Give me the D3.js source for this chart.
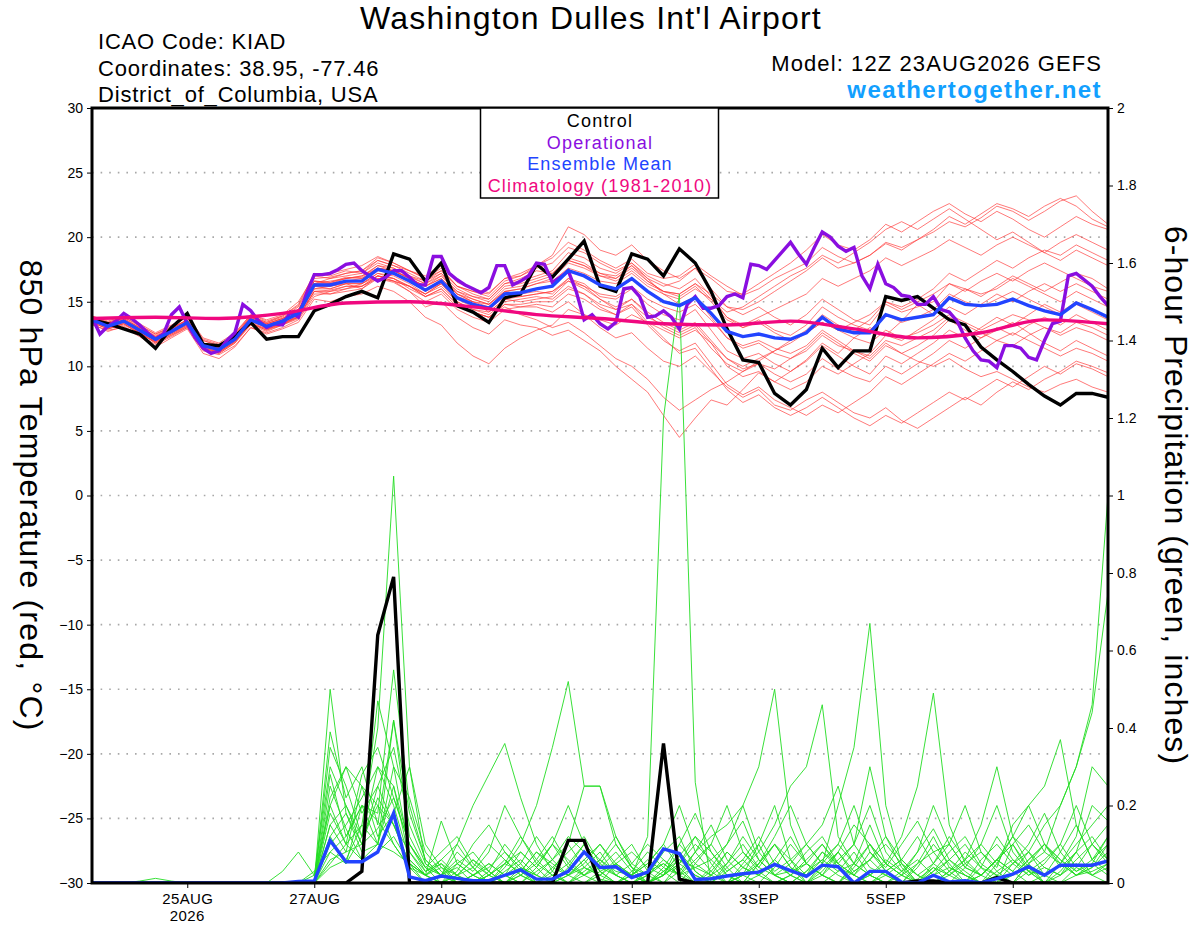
<!DOCTYPE html>
<html>
<head>
<meta charset="utf-8">
<title>KIAD GEFS meteogram</title>
<script src="https://d3js.org/d3.v7.min.js"></script>
<style>
  body { margin: 0; background: #fff; }
  svg text { font-family: "Liberation Sans", Arial, Helvetica, sans-serif; }
</style>
</head>
<body>
<div class="canvas"></div>
<script>
// Run info - 6 hourly ensemble steps from 12Z 23AUG2026
const runStart = '2026-08-23T12:00:00Z';
const stepHours = 6;      // ensemble / control / mean
const opStepHours = 3;    // operational run
const climStepHours = 24; // climatology

// Axis ticks
const dateTicks = ['2026-08-25T00:00:00Z', '2026-08-27T00:00:00Z', '2026-08-29T00:00:00Z',
  '2026-09-01T00:00:00Z', '2026-09-03T00:00:00Z', '2026-09-05T00:00:00Z', '2026-09-07T00:00:00Z'];
const dateLabels = ['25AUG', '27AUG', '29AUG', '1SEP', '3SEP', '5SEP', '7SEP'];
const tempTicks = [-30, -25, -20, -15, -10, -5, 0, 5, 10, 15, 20, 25, 30];
const precipTicks = [0, 0.2, 0.4, 0.6, 0.8, 1, 1.2, 1.4, 1.6, 1.8, 2];

// 850 hPa temperature (C)
const controlTemp = [13.6,13.3,12.9,12.5,11.4, 13.0,14.1,11.7,11.6,12.3, 13.4,12.1,12.3,12.3,14.3,
  14.8,15.4,15.8,15.3,18.7, 18.3,16.6,18.0,14.7,14.2, 13.4,15.3,15.6,17.9,16.9,
  18.3,19.7,16.2,15.8,18.7, 18.3,17.0,19.1,18.0,15.8, 12.9,10.5,10.3,7.9,7.0,
  8.2,11.4,9.9,11.2,11.2, 15.4,15.1,15.4,14.5,13.6, 13.2,11.5,10.5,9.6,8.6, 7.7,7.0,7.9,7.9,7.6];

const meanTemp = [13.6,13.1,13.5,12.8,12.1, 12.7,13.4,11.6,11.3,12.1, 13.6,13.1,13.5,14.1,16.3,
  16.3,16.6,16.6,17.5,17.2, 16.6,15.9,16.6,15.3,14.8, 14.5,15.6,15.7,16.0,16.2,
  17.4,17.0,16.3,16.0,16.8, 15.8,15.0,14.7,15.3,14.1, 12.7,12.3,12.5,12.2,12.1,
  12.6,13.8,12.9,12.6,12.6, 14.0,13.6,13.8,14.0,15.3, 14.8,14.7,14.8,15.2,14.7, 14.3,14.0,14.9,14.4,13.8];

const operationalTemp = [13.8,12.5,13.1,13.5,14.1,13.7,13.2,12.6,12.1,12.5,
  14.0,14.6,13.3,12.2,11.4,11.0,11.2,12.0,12.6,14.8,
  14.3,13.5,13.0,13.3,13.2,14.2,13.8,15.6,17.1,17.1,
  17.2,17.5,17.9,18.0,17.4,17.0,16.6,16.9,17.4,17.4,
  16.9,16.3,16.3,18.5,18.5,17.2,16.7,16.3,16.0,15.7,
  16.1,17.8,17.8,16.3,16.6,17.0,18.0,17.9,16.5,16.9,
  17.4,15.8,13.6,14.0,13.3,12.9,13.4,16.0,16.1,15.4,
  13.8,13.9,14.3,13.8,12.9,14.8,15.4,14.5,14.5,14.7,
  15.4,15.6,15.3,17.9,17.8,17.5,18.2,18.9,19.6,18.7,
  17.9,19.2,20.4,20.0,19.3,18.9,19.2,17.0,16.0,17.9,
  16.4,16.1,15.5,15.4,14.8,14.8,15.4,14.4,14.2,13.5,
  12.2,11.2,10.5,10.4,9.9,11.6,11.6,11.4,10.7,10.5,
  12.0,13.3,13.5,17.0,17.2,16.7,16.2,15.4,14.7];

const climoTemp = [13.7,13.8,13.7,14.1,14.9,15.0,14.6,14.0,13.7,13.3,13.2,13.5,12.9,12.2,12.6,13.6,13.3];

const memberTemps = [
  [13.9,13.4,13.8,13.2,12.5, 13.0,13.9,12.2,11.8,12.6, 14.0,13.6,14.0,15.0,17.0, 17.2,17.5,17.8,18.5,18.0, 17.4,17.0,17.8,16.5,16.0, 15.7,16.8,17.2,17.8,18.4, 19.6,19.0,18.2,17.6,18.3, 17.2,16.8,17.0,17.9,17.0, 16.2,15.5,16.0,16.8,17.4, 18.0,19.2,18.5,18.0,18.6, 19.5,19.0,19.8,20.4,21.2, 20.8,21.5,22.4,22.0,21.3, 22.0,22.8,23.2,22.0,21.0],
  [13.2,12.8,13.0,12.3,11.5, 12.2,12.9,11.0,10.6,11.5, 13.0,12.6,13.0,13.6,15.4, 15.8,16.0,16.2,16.8,16.5, 15.8,14.6,15.0,13.8,13.0, 12.5,13.6,13.2,13.0,12.4, 12.8,12.0,11.2,10.0,9.0, 8.0,6.2,4.5,6.0,7.4, 7.0,8.2,9.5,8.8,9.6, 10.5,11.8,11.0,12.2,13.0, 12.4,13.5,14.8,14.0,15.2, 16.0,15.4,16.2,17.0,16.4, 15.8,16.5,17.2,16.8,16.0],
  [13.5,13.0,13.6,12.6,11.8, 12.4,13.0,11.4,11.0,11.8, 13.4,12.9,13.2,14.0,16.0, 16.0,16.4,16.0,17.0,16.8, 16.0,15.4,16.0,14.8,14.2, 13.8,14.8,14.6,14.6,14.2, 15.0,14.0,13.0,12.2,12.6, 11.4,10.4,10.0,10.8,9.6, 8.4,7.6,8.2,7.0,6.6, 7.4,8.0,7.2,6.4,6.0, 6.8,5.8,5.2,6.0,6.8, 7.6,7.0,8.0,8.8,8.2, 9.0,9.6,10.4,10.0,9.5],
  [13.8,13.3,13.7,13.0,12.4, 13.0,13.6,12.0,11.6,12.4, 13.9,13.4,13.8,14.6,16.8, 16.9,17.2,17.4,18.4,18.0, 17.4,16.8,17.6,16.2,15.8, 15.4,16.6,17.0,17.8,18.6, 20.8,20.2,19.0,18.6,19.4, 18.2,17.4,16.8,17.6,16.0, 14.6,14.0,14.6,13.8,13.2, 14.0,15.2,14.4,13.6,13.2, 14.8,14.2,14.6,15.0,16.4, 16.0,15.6,16.0,16.8,16.2, 15.6,15.0,15.8,15.2,14.6],
  [13.4,12.9,13.3,12.5,11.9, 12.6,13.2,11.5,11.1,11.9, 13.3,12.8,13.4,13.8,15.8, 15.6,16.0,16.4,17.0,16.6, 16.2,15.6,16.4,15.4,15.0, 14.2,15.2,15.4,15.6,15.8, 16.6,16.0,15.2,14.6,15.2, 14.0,13.0,12.4,13.0,11.4, 10.2,9.6,10.2,9.8,10.6, 11.4,12.6,11.8,11.0,10.4, 11.6,11.0,11.6,12.4,13.6, 12.8,12.2,12.8,13.4,12.6, 11.8,11.2,12.0,11.4,10.8],
  [13.7,13.2,13.5,12.9,12.2, 12.8,13.5,11.7,11.4,12.2, 13.7,13.2,13.6,14.4,16.4, 16.6,16.8,17.0,17.8,17.6, 17.0,16.4,17.0,15.8,15.2, 14.8,16.0,16.2,16.6,17.0, 18.2,17.8,17.0,16.8,17.8, 16.8,16.2,16.6,17.6,16.8, 15.8,15.6,16.4,17.2,18.0, 19.0,20.2,19.4,19.0,19.8, 21.0,20.4,21.2,22.0,22.6, 21.8,21.2,22.0,21.4,20.6, 20.0,20.8,21.6,21.0,20.6],
  [13.6,13.0,13.4,12.7,12.0, 12.6,13.3,11.5,11.2,12.0, 13.5,13.0,13.3,13.9,16.0, 16.2,16.4,16.4,17.2,17.0, 16.4,15.6,16.2,15.0,14.4, 14.0,15.0,15.2,15.4,15.2, 16.2,15.6,14.6,14.0,14.6, 13.2,12.0,11.2,11.8,10.2, 8.6,7.8,8.4,7.4,6.8, 6.2,7.0,6.4,7.2,8.0, 9.2,8.6,9.4,10.2,11.0, 10.4,11.2,12.0,11.6,12.4, 13.0,12.6,13.4,13.0,12.4],
  [13.9,13.5,13.9,13.3,12.6, 13.2,13.8,12.1,11.7,12.5, 14.0,13.5,13.9,14.8,17.2, 17.0,17.4,17.2,18.2,17.8, 17.2,16.6,17.2,16.0,15.4, 15.2,16.4,16.6,17.0,17.4, 18.8,18.4,17.6,17.2,18.0, 17.0,16.4,16.0,16.8,15.4, 13.8,13.0,13.4,12.6,12.0, 12.8,14.0,13.2,12.8,13.6, 15.0,14.6,15.2,16.0,17.2, 16.6,17.4,18.2,17.6,18.4, 19.0,18.6,19.4,18.8,18.2],
  [13.3,12.7,13.1,12.4,11.7, 12.3,13.0,11.2,10.9,11.6, 13.0,12.5,12.9,13.4,15.2, 15.0,15.4,15.6,16.2,15.8, 15.0,13.8,13.2,11.8,10.8, 10.2,11.4,12.2,12.8,13.2, 14.4,14.0,13.6,13.2,14.0, 13.4,12.8,12.2,12.8,11.8, 10.6,10.0,10.6,11.2,11.8, 12.6,13.4,12.8,12.2,11.8, 12.8,12.2,12.6,13.2,14.0, 13.4,12.8,13.4,14.0,13.6, 13.0,12.4,13.0,12.6,12.0],
  [13.6,13.2,13.5,12.9,12.3, 12.9,13.6,11.8,11.5,12.3, 13.8,13.3,13.7,14.3,16.6, 16.5,16.9,16.8,17.6,17.4, 16.9,16.4,17.2,15.6,15.0, 14.6,15.8,15.6,15.8,15.6, 16.8,16.4,15.4,15.2,16.0, 14.8,14.0,13.6,14.4,12.8, 11.2,10.6,11.0,10.2,9.6, 10.4,11.6,10.8,10.0,9.4, 10.8,10.2,11.0,11.8,12.8, 12.2,13.0,13.8,13.2,14.0, 14.8,14.2,15.0,14.4,13.8],
  [13.5,13.1,13.6,12.8,12.2, 12.8,13.5,11.7,11.4,12.2, 13.7,13.2,13.6,14.2,16.4, 16.8,17.0,17.2,18.0,17.6, 17.0,16.6,17.4,16.2,15.6, 15.2,16.4,16.8,17.4,17.2, 18.4,18.0,17.2,16.8,17.6, 16.6,15.8,15.4,16.2,15.0, 13.6,13.0,13.6,12.8,12.4, 13.2,14.6,13.8,13.2,12.8, 14.0,13.4,13.8,14.4,15.6, 15.0,14.6,15.2,15.8,15.2, 14.6,14.0,14.8,14.2,13.6],
  [13.7,13.1,13.4,12.7,12.0, 12.6,13.3,11.6,11.2,12.0, 13.5,13.0,13.4,14.0,16.2, 16.0,16.4,16.4,17.2,16.8, 16.2,15.6,16.4,15.0,14.4, 14.2,15.2,15.0,15.2,15.4, 16.6,16.2,15.6,15.4,16.2, 15.2,14.6,14.2,14.8,13.6, 12.2,11.6,12.0,11.4,11.0, 11.6,12.8,12.0,11.2,10.6, 11.8,11.0,10.4,10.0,10.6, 9.8,9.2,9.6,9.0,8.4, 8.0,8.6,9.0,8.4,8.0],
  [13.8,13.3,13.6,13.0,12.3, 12.9,13.6,11.8,11.5,12.3, 13.8,13.3,13.7,14.4,16.6, 16.4,16.8,17.0,17.6,17.4, 16.8,16.2,16.8,15.6,15.2, 14.8,15.8,16.0,16.4,16.6, 17.6,17.2,16.6,16.4,17.2, 16.2,15.6,15.2,16.0,15.2, 14.2,14.6,15.4,16.2,17.0, 17.6,18.6,18.0,18.8,19.6, 20.6,21.2,20.6,21.4,22.2, 21.4,20.6,19.8,20.4,19.6, 18.8,18.2,19.0,18.4,17.8],
  [13.4,12.9,13.2,12.6,11.9, 12.5,13.2,11.4,11.1,11.9, 13.3,12.8,13.2,13.8,15.8, 15.9,16.2,16.2,17.0,16.8, 16.2,15.4,16.0,14.8,14.2, 13.8,14.8,14.8,15.0,15.0, 16.0,15.6,14.8,14.4,15.2, 14.2,13.4,12.8,13.4,12.0, 10.6,9.8,10.2,9.4,8.8, 9.4,10.6,9.8,9.2,8.8, 10.0,9.4,10.2,11.0,12.0, 11.4,12.2,13.0,12.4,13.2, 13.8,13.2,14.0,13.4,12.8],
  [13.6,13.1,13.5,12.8,12.1, 12.7,13.4,11.6,11.3,12.1, 13.6,13.1,13.5,14.1,16.2, 16.2,16.5,16.6,17.4,17.2, 16.6,15.8,16.4,15.2,14.6, 14.4,15.4,15.4,15.6,15.8, 16.8,16.2,15.2,14.4,14.8, 13.4,12.2,11.0,11.4,9.8, 8.2,7.2,7.8,6.8,6.2, 6.8,7.6,6.8,6.0,5.4, 6.2,5.6,6.4,7.2,8.0, 7.4,8.2,9.0,8.4,9.2, 10.0,9.4,10.2,9.8,9.2],
  [13.7,13.3,13.7,13.0,12.3, 12.9,13.6,11.8,11.5,12.3, 13.8,13.3,13.7,14.4,16.6, 16.5,16.8,16.9,17.8,17.4, 16.8,16.2,17.0,15.8,15.4, 15.0,16.2,16.4,16.8,17.2, 18.2,17.8,17.2,17.0,17.8, 16.6,15.8,15.6,16.4,15.2, 13.8,13.2,13.8,14.4,15.0, 15.6,16.8,16.2,16.8,17.4, 18.4,17.8,18.4,19.0,19.8, 19.2,18.6,19.4,20.0,19.4, 18.8,19.6,20.2,19.6,19.0],
  [13.5,13.0,13.3,12.6,11.8, 12.4,13.1,11.3,11.0,11.8, 13.2,12.7,13.2,13.7,15.6, 15.6,15.8,16.0,16.8,16.6, 15.8,15.0,15.6,14.4,13.8, 13.4,14.4,14.6,14.8,14.6, 15.6,15.2,14.4,14.0,14.8, 13.8,13.2,12.6,13.2,11.8, 10.0,9.2,9.6,8.8,8.2, 8.8,10.0,9.4,10.2,11.0, 12.4,12.0,12.8,13.6,14.6, 14.0,14.8,15.6,15.0,15.8, 16.4,15.8,16.4,15.8,15.2],
  [13.8,13.4,13.8,13.1,12.5, 13.1,13.8,12.0,11.6,12.4, 13.9,13.4,13.9,14.7,17.0, 16.8,17.2,17.4,18.2,17.8, 17.4,16.8,17.4,16.2,15.8, 15.6,16.8,17.0,17.6,18.0, 19.2,18.8,18.0,17.4,18.0, 16.8,15.6,14.8,15.4,13.8, 12.2,11.4,11.8,11.0,10.6, 11.2,12.4,11.6,11.2,10.8, 12.0,11.6,12.2,12.8,13.8, 13.2,12.6,12.0,12.6,12.0, 11.4,10.8,11.4,11.0,10.4],
  [13.6,13.1,13.6,12.9,12.2, 12.8,13.4,11.7,11.4,12.2, 13.6,13.1,13.5,14.2,16.4, 16.4,16.6,16.8,17.6,17.4, 16.8,16.2,16.8,15.6,15.0, 14.8,15.8,16.0,16.4,16.8, 18.0,17.6,17.0,16.6,17.4, 16.4,15.8,15.6,16.4,15.6, 14.6,14.4,15.0,15.8,16.6, 17.4,18.4,17.6,18.0,18.6, 19.6,19.2,19.8,20.6,21.6, 21.0,21.8,22.6,22.2,21.6, 22.4,23.0,22.4,21.4,20.8],
  [13.4,12.9,13.3,12.6,11.9, 12.5,13.1,11.4,11.1,11.9, 13.3,12.9,13.3,13.8,15.8, 15.8,16.2,16.2,17.0,16.6, 16.2,15.4,15.8,14.6,14.2, 13.8,14.6,14.0,13.6,13.0, 13.4,12.6,11.6,10.6,10.0, 9.0,7.6,6.6,7.4,8.2, 8.8,9.6,10.4,11.2,12.0, 12.6,13.4,12.8,13.4,14.0, 15.0,14.4,15.0,15.6,16.4, 15.8,16.6,17.2,16.6,17.4, 18.0,17.4,16.8,16.2,15.8]
];

// 6-hour precipitation (inches)
const controlPrecip = [0,0,0,0,0, 0,0,0,0,0, 0,0,0,0,0, 0,0,0.03,0.64,0.79, 0,0,0,0,0, 0,0,0,0,0,
  0.11,0.11,0,0,0, 0,0.36,0.01,0,0, 0,0,0,0,0, 0,0,0,0,0, 0,0,0.005,0.005,0, 0,0,0.014,0,0, 0,0,0,0,0];

const meanPrecip = [0,0,0,0,0, 0,0,0,0,0, 0,0,0,0.004,0.005, 0.11,0.055,0.055,0.08,0.18,
  0.016,0.006,0.018,0.012,0.006, 0.006,0.02,0.034,0.01,0.01, 0.03,0.08,0.04,0.042,0.014,
  0.028,0.088,0.076,0.009,0.011, 0.018,0.024,0.028,0.048,0.032, 0.017,0.046,0.042,0,0.03,
  0.03,0.002,0,0.02,0.003, 0.006,0,0.011,0.023,0.042, 0.02,0.046,0.046,0.046,0.057];

const memberPrecips = [
  [0,0,0,0,0, 0,0,0,0,0, 0,0,0,0,0.02, 0.2,0.1,0.15,0.4,1.05, 0.3,0.05,0.02,0,0, 0.03,0.1,0.05,0,0, 0.02,0.06,0.01,0,0, 0.02,0.08,0.12,0.03,0, 0,0.05,0.1,0.02,0, 0,0,0.03,0.08,0.02, 0,0,0.01,0.04,0, 0,0.02,0.06,0.1,0.03, 0,0,0.02,0.05,0.12],
  [0,0,0,0,0, 0,0,0,0,0, 0,0,0,0,0, 0.12,0.05,0.2,0.1,0.25, 0.06,0.02,0,0.05,0.02, 0,0.02,0.08,0.04,0, 0,0,0.03,0.05,0.02, 0.12,1.2,1.52,0.26,0, 0,0.02,0.05,0.1,0.04, 0,0.02,0,0.05,0.1, 0.03,0,0,0.02,0.04, 0.02,0,0,0.05,0.08, 0.02,0,0.04,0.1,0.06],
  [0,0,0,0,0, 0,0,0,0,0, 0,0,0,0,0, 0.5,0.18,0.1,0.22,0.15, 0.05,0,0.02,0.04,0, 0,0.05,0.12,0.06,0.02, 0,0.04,0.08,0.02,0, 0,0.03,0.07,0.12,0.05, 0,0.02,0.1,0.2,0.06, 0,0.03,0.08,0.02,0, 0.02,0.05,0,0,0.03, 0.06,0.02,0,0.1,0.15, 0.08,0.2,0.3,0.46,1.0],
  [0,0,0,0,0, 0,0,0,0,0, 0,0,0,0,0, 0.39,0.22,0.3,0.15,0.42, 0.12,0.04,0,0.02,0.06, 0.02,0,0.03,0.08,0.05, 0.02,0,0.02,0.06,0.1, 0.03,0,0.05,0.12,0.08, 0.02,0,0.05,0.12,0.2, 0.1,0.05,0.2,0.35,0.67, 0.2,0.05,0,0.02,0.06, 0.02,0,0.05,0.12,0.05, 0,0.03,0.08,0.02,0],
  [0,0,0,0,0, 0,0,0,0,0, 0,0,0,0,0, 0.35,0.25,0.12,0.47,0.3, 0.08,0.02,0.05,0,0, 0.02,0.06,0.02,0,0.03, 0.1,0.25,0.25,0.12,0.04, 0,0.02,0.05,0.1,0.06, 0.1,0.2,0.3,0.5,0.15, 0.05,0.02,0,0.03,0.06, 0.02,0,0.04,0.1,0.05, 0,0.02,0.06,0.03,0, 0.02,0.05,0.1,0.15,0.2],
  [0,0,0,0,0, 0,0,0,0,0, 0,0,0,0,0, 0.28,0.12,0.2,0.18,0.55, 0.2,0.06,0.02,0.08,0.04, 0,0.03,0.06,0.02,0, 0.04,0.1,0.03,0,0.02, 0.05,0.1,0.04,0,0.03, 0.08,0.04,0.02,0.06,0.12, 0.05,0.02,0.08,0.15,0.1, 0.05,0.12,0.25,0.49,0.15, 0.05,0.02,0.06,0.1,0.04, 0,0.02,0.08,0.12,0.06],
  [0,0,0,0,0, 0,0,0,0,0, 0,0,0,0,0, 0.22,0.3,0.18,0.25,0.35, 0.15,0.05,0.02,0.1,0.2, 0.28,0.36,0.22,0.1,0.03, 0,0.02,0.05,0.1,0.04, 0,0.02,0.08,0.03,0, 0.05,0.12,0.06,0.02,0, 0.03,0.08,0.04,0,0.02, 0.05,0.02,0,0.03,0.08, 0.12,0.05,0.02,0,0.03, 0.06,0.1,0.04,0.02,0.05],
  [0,0,0,0,0, 0,0,0,0,0, 0,0,0,0,0, 0.15,0.08,0.25,0.12,0.18, 0.3,0.1,0.04,0,0.02, 0.05,0.02,0,0.04,0.1, 0.06,0.02,0,0.05,0.08, 0.04,0.02,0.1,0.05,0.02, 0,0.04,0.08,0.15,0.25, 0.3,0.46,0.12,0.05,0.02, 0,0.03,0.06,0.02,0, 0.04,0.1,0.2,0.08,0.03, 0,0.05,0.12,0.3,0.25],
  [0,0,0,0,0, 0,0,0,0,0, 0,0,0,0,0, 0.1,0.15,0.22,0.3,0.2, 0.06,0.02,0.16,0.05,0.02, 0,0.04,0.1,0.2,0.35, 0.52,0.25,0.25,0.1,0.04, 0.02,0.06,0.03,0,0.02, 0.05,0.1,0.04,0.02,0, 0.03,0.06,0.1,0.05,0.02, 0,0.02,0.05,0.08,0.03, 0,0.04,0.12,0.06,0.02, 0.05,0.1,0.2,0.1,0.05],
  [0,0,0,0,0, 0,0,0,0,0, 0,0,0,0,0.03, 0.08,0.05,0.12,0.2,0.1, 0.04,0.02,0,0.02,0.06, 0.03,0,0.02,0.05,0.1, 0.04,0.02,0.06,0.12,0.05, 0.02,0,0.03,0.08,0.15, 0.06,0.02,0,0.04,0.1, 0.05,0.02,0.06,0.1,0.2, 0.08,0.03,0,0.05,0.12, 0.06,0.15,0.3,0.12,0.2, 0.25,0.37,0.15,0.06,0.1],
  [0,0,0,0.005,0.012, 0.005,0,0,0,0, 0,0,0,0,0, 0.05,0.1,0.06,0.08,0.12, 0.05,0.02,0.04,0.02,0, 0.02,0.05,0.03,0.08,0.04, 0.02,0.06,0.1,0.05,0.02, 0,0.02,0.05,0.02,0, 0.03,0.06,0.02,0,0.02, 0.05,0.1,0.05,0.02,0.06, 0.12,0.06,0.02,0,0.03, 0.08,0.04,0,0.02,0.06, 0.1,0.05,0.02,0.04,0.08],
  [0,0,0,0,0, 0,0,0,0,0, 0,0,0.03,0.08,0.02, 0.3,0.2,0.1,0.14,0.22, 0.1,0.04,0.08,0.12,0.05, 0.02,0,0.04,0.02,0.06, 0.12,0.08,0.03,0,0.02, 0.06,0.03,0,0.05,0.1, 0.2,0.08,0.03,0,0.02, 0.06,0.1,0.04,0.02,0.08, 0.04,0.1,0.16,0.08,0.1, 0.2,0.08,0.03,0,0.05, 0.1,0.06,0.02,0.04,0.1],
  [0,0,0,0,0, 0,0,0,0,0, 0,0,0,0,0, 0.2,0.3,0.25,0.2,0.15, 0.05,0.02,0.06,0.1,0.04, 0,0.02,0.05,0.12,0.06, 0.02,0.04,0.02,0,0.03, 0.08,0.04,0.02,0.06,0.1, 0.04,0,0.02,0.05,0.03, 0.08,0.12,0.05,0.02,0, 0.03,0.06,0.02,0.05,0.1, 0.04,0.02,0.06,0.12,0.08, 0.15,0.2,0.3,0.44,0.75],
  [0,0,0,0,0, 0,0,0,0,0, 0,0,0,0,0, 0.12,0.18,0.08,0.1,0.3, 0.22,0.08,0.03,0,0.02, 0.04,0.08,0.04,0.02,0, 0.02,0.05,0.1,0.04,0.02, 0,0.04,0.1,0.18,0.08, 0.03,0.06,0.12,0.05,0.02, 0,0.04,0.08,0.03,0.06, 0.1,0.05,0.02,0,0.02, 0.05,0.08,0.04,0.15,0.2, 0.1,0.06,0.03,0.05,0.02],
  [0,0,0,0,0, 0,0,0,0,0, 0,0,0,0,0, 0.06,0.08,0.1,0.25,0.15, 0.08,0.03,0.05,0.02,0.04, 0.1,0.06,0.02,0,0.04, 0.08,0.12,0.05,0.02,0, 0.02,0.05,0.02,0.08,0.12, 0.15,0.2,0.08,0.03,0.06, 0.1,0.15,0.25,0.1,0.04, 0.02,0,0.05,0.12,0.04, 0.02,0,0.03,0.06,0.03, 0.02,0.08,0.15,0.06,0.03],
  [0,0,0,0,0, 0,0,0,0,0, 0,0,0,0,0, 0.18,0.1,0.28,0.35,0.22, 0.1,0.04,0.02,0.05,0.08, 0.03,0,0.02,0.06,0.12, 0.05,0.02,0.04,0.08,0.03, 0,0.02,0.06,0.04,0.02, 0.08,0.04,0.02,0.06,0.02, 0,0.05,0.1,0.2,0.08, 0.03,0.06,0.12,0.05,0.02, 0,0.06,0.1,0.05,0.02, 0.04,0.02,0.06,0.1,0.15],
  [0,0,0,0,0, 0,0,0,0,0, 0,0,0,0,0, 0.04,0.06,0.15,0.1,0.08, 0.05,0.02,0,0.03,0.1, 0.15,0.08,0.03,0,0.02, 0.05,0.1,0.06,0.02,0.05, 0.1,0.06,0.02,0,0.04, 0.1,0.16,0.06,0.02,0.03, 0.05,0.02,0,0.04,0.1, 0.05,0.02,0.08,0.14,0.06, 0.03,0,0.02,0.05,0.1, 0.18,0.08,0.03,0.06,0.12],
  [0,0,0,0,0, 0,0,0,0,0, 0,0,0,0,0, 0.25,0.14,0.06,0.1,0.42, 0.18,0.06,0.02,0,0.02, 0.05,0.02,0,0.03,0.06, 0.1,0.04,0.02,0.05,0.02, 0,0.03,0.06,0.02,0, 0.04,0.08,0.04,0.1,0.06, 0.02,0.08,0.05,0.1,0.3, 0.12,0.04,0,0.03,0.06, 0.1,0.04,0.02,0,0.05, 0.08,0.05,0.02,0.03,0.05],
  [0,0,0,0,0, 0,0,0,0,0, 0,0,0,0,0, 0.08,0.12,0.2,0.16,0.1, 0.04,0,0.02,0.06,0.03, 0.08,0.2,0.12,0.05,0.02, 0,0.03,0.06,0.03,0.02, 0.05,0.1,0.2,0.08,0.03, 0,0.02,0.06,0.02,0.05, 0.1,0.05,0.02,0,0.02, 0.06,0.03,0.08,0.2,0.1, 0.04,0.02,0.06,0.03,0.08, 0.04,0.02,0.05,0.02,0.04],
  [0,0,0,0,0, 0,0,0,0,0, 0,0,0,0,0, 0.15,0.2,0.12,0.3,0.25, 0.1,0.03,0.06,0.02,0, 0.02,0.05,0.08,0.04,0.1, 0.2,0.1,0.04,0.02,0, 0.03,0.05,0.02,0.04,0.06, 0.02,0,0.05,0.1,0.04, 0.02,0.06,0.03,0.05,0.15, 0.05,0.02,0,0.04,0.02, 0.06,0.1,0.05,0.02,0.06, 0.1,0.04,0.08,0.2,0.16]
];

// Setup dimensions
const dims = { width: 1200, height: 927 };
const plot = { left: 92, right: 1108, top: 108, bottom: 883 };

const colours = {
  member: 'rgba(255, 55, 55, 0.75)',
  precip: '#22dd22',
  control: '#000000',
  operational: '#8a0ee0',
  mean: '#2244ff',
  climo: '#f0087f',
  site: '#12a0ff'
};

const t0 = new Date(runStart);
const hoursToDate = h => new Date(t0.getTime() + h * 3600e3);
const stepTime = (i, step) => hoursToDate(i * step);

const x = d3.scaleUtc()
  .domain([t0, stepTime(controlTemp.length - 1, stepHours)])
  .range([plot.left, plot.right]);

const yTemp = d3.scaleLinear().domain([-30, 30]).range([plot.bottom, plot.top]);
const yPrecip = d3.scaleLinear().domain([0, 2]).range([plot.bottom, plot.top]);

const svg = d3.select('.canvas')
  .append('svg')
  .attr('width', dims.width)
  .attr('height', dims.height);

svg.append('defs').append('clipPath')
  .attr('id', 'plot-clip')
  .append('rect')
    .attr('x', plot.left)
    .attr('y', plot.top)
    .attr('width', plot.right - plot.left)
    .attr('height', plot.bottom - plot.top);

// dotted grid on the temperature scale
svg.append('g')
  .selectAll('line')
  .data(tempTicks.filter(t => t > -30 && t < 30))
  .enter().append('line')
    .attr('x1', plot.left)
    .attr('x2', plot.right)
    .attr('y1', d => yTemp(d))
    .attr('y2', d => yTemp(d))
    .attr('stroke', '#a8a8a8')
    .attr('stroke-width', 1.6)
    .attr('stroke-dasharray', '1.6,7');

const lines = svg.append('g').attr('clip-path', 'url(#plot-clip)');

const tempLine = step => d3.line()
  .x((d, i) => x(stepTime(i, step)))
  .y(d => yTemp(d));

const precipLine = d3.line()
  .x((d, i) => x(stepTime(i, stepHours)))
  .y(d => yPrecip(d));

// ensemble members
lines.append('g')
  .selectAll('path')
  .data(memberTemps)
  .enter().append('path')
    .attr('d', tempLine(stepHours))
    .attr('fill', 'none')
    .attr('stroke', colours.member)
    .attr('stroke-width', 0.9);

lines.append('g')
  .selectAll('path')
  .data(memberPrecips)
  .enter().append('path')
    .attr('d', precipLine)
    .attr('fill', 'none')
    .attr('stroke', colours.precip)
    .attr('stroke-width', 0.9);

// main lines
const heavy = (d, colour) => lines.append('path')
  .attr('d', d)
  .attr('fill', 'none')
  .attr('stroke', colour)
  .attr('stroke-width', 3.4)
  .attr('stroke-linejoin', 'miter');

heavy(precipLine(controlPrecip), colours.control);
heavy(precipLine(meanPrecip), colours.mean);
heavy(tempLine(stepHours)(controlTemp), colours.control);
heavy(tempLine(opStepHours)(operationalTemp), colours.operational);
heavy(tempLine(stepHours)(meanTemp), colours.mean);

const climoLine = d3.line()
  .curve(d3.curveMonotoneX)
  .x((d, i) => x(stepTime(i, climStepHours)))
  .y(d => yTemp(d));
heavy(climoLine(climoTemp), colours.climo);

// axes
const fontSize = 14;

svg.append('g')
  .attr('transform', `translate(${plot.left}, 0)`)
  .call(d3.axisLeft(yTemp).tickValues(tempTicks).tickSize(5).tickPadding(4))
  .call(g => g.select('.domain').remove())
  .call(g => g.selectAll('text').attr('font-size', fontSize).attr('fill', '#000'));

svg.append('g')
  .attr('transform', `translate(${plot.right}, 0)`)
  .call(d3.axisRight(yPrecip).tickValues(precipTicks).tickSize(5).tickPadding(4).tickFormat(d => String(d)))
  .call(g => g.select('.domain').remove())
  .call(g => g.selectAll('text').attr('font-size', fontSize).attr('fill', '#000'));

const xAxis = svg.append('g')
  .attr('transform', `translate(0, ${plot.bottom})`)
  .call(d3.axisBottom(x)
    .tickValues(dateTicks.map(d => new Date(d)))
    .tickSize(5)
    .tickPadding(5)
    .tickFormat((d, i) => dateLabels[i]))
  .call(g => g.select('.domain').remove());

xAxis.selectAll('text')
  .attr('font-size', 15)
  .attr('letter-spacing', 0.4)
  .attr('fill', '#000');

xAxis.append('text')
  .attr('x', x(new Date(dateTicks[0])))
  .attr('y', 38)
  .attr('text-anchor', 'middle')
  .attr('font-size', 15)
  .attr('letter-spacing', 0.4)
  .attr('fill', '#000')
  .text('2026');

// frame
svg.append('rect')
  .attr('x', plot.left)
  .attr('y', plot.top)
  .attr('width', plot.right - plot.left)
  .attr('height', plot.bottom - plot.top)
  .attr('fill', 'none')
  .attr('stroke', '#000')
  .attr('stroke-width', 3);

// axis titles
svg.append('text')
  .attr('transform', `translate(31, ${(plot.top + plot.bottom) / 2}) rotate(90)`)
  .attr('text-anchor', 'middle')
  .attr('dominant-baseline', 'central')
  .attr('font-size', 32)
  .attr('letter-spacing', 1.2)
  .text('850 hPa Temperature (red, °C)');

svg.append('text')
  .attr('transform', `translate(1176, ${(plot.top + plot.bottom) / 2}) rotate(90)`)
  .attr('text-anchor', 'middle')
  .attr('dominant-baseline', 'central')
  .attr('font-size', 32)
  .attr('letter-spacing', 1.1)
  .text('6-hour Precipitation (green, inches)');

// header
svg.append('text')
  .attr('x', 591)
  .attr('y', 29)
  .attr('text-anchor', 'middle')
  .attr('font-size', 32)
  .attr('letter-spacing', 1.2)
  .text("Washington Dulles Int'l Airport");

const info = ['ICAO Code: KIAD', 'Coordinates: 38.95, -77.46', 'District_of_Columbia, USA'];
svg.append('g')
  .selectAll('text')
  .data(info)
  .enter().append('text')
    .attr('x', 98)
    .attr('y', (d, i) => 49 + i * 26.5)
    .attr('font-size', 22)
    .attr('letter-spacing', 0.8)
    .text(d => d);

svg.append('text')
  .attr('x', 1102)
  .attr('y', 71)
  .attr('text-anchor', 'end')
  .attr('font-size', 22)
  .attr('letter-spacing', 1.1)
  .text('Model: 12Z 23AUG2026 GEFS');

svg.append('text')
  .attr('x', 1102)
  .attr('y', 98)
  .attr('text-anchor', 'end')
  .attr('font-size', 24)
  .attr('font-weight', 'bold')
  .attr('letter-spacing', 1.4)
  .attr('fill', colours.site)
  .text('weathertogether.net');

// legend box
const legendItems = [
  { name: 'Control', colour: colours.control },
  { name: 'Operational', colour: colours.operational },
  { name: 'Ensemble Mean', colour: colours.mean },
  { name: 'Climatology (1981-2010)', colour: colours.climo }
];

const legendGroup = svg.append('g');
legendGroup.append('rect')
  .attr('x', 480.5)
  .attr('y', plot.top)
  .attr('width', 238)
  .attr('height', 90)
  .attr('fill', '#fff')
  .attr('stroke', '#000')
  .attr('stroke-width', 1.5);

legendGroup.selectAll('text')
  .data(legendItems)
  .enter().append('text')
    .attr('x', 600)
    .attr('y', (d, i) => 127 + i * 21.6)
    .attr('text-anchor', 'middle')
    .attr('font-size', 18)
    .attr('letter-spacing', 1.2)
    .attr('fill', d => d.colour)
    .text(d => d.name);
</script>
</body>
</html>
